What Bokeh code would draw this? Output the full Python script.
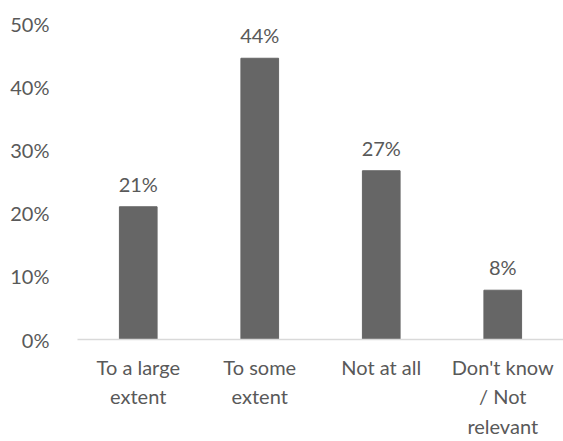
from bokeh.plotting import figure
from bokeh.models import ColumnDataSource, FixedTicker, Range1d
from bokeh.core.properties import value
from bokeh.embed import file_html
from bokeh.resources import INLINE

categories = ["To a large\nextent", "To some\nextent", "Not at all", "Don't know\n/ Not\nrelevant"]
values = [21.0, 44.5, 26.7, 7.8]
labels = ["21%", "44%", "27%", "8%"]
y_ticks = [0, 10, 20, 30, 40, 50]

FONT = "Lato"
TXT = "#595959"

xs = list(range(1, len(categories) + 1))
src = ColumnDataSource(dict(x=xs, top=values, lab=labels))

p = figure(width=563, height=441, output_backend="svg", toolbar_location=None,
           x_range=Range1d(0.5, 4.5), y_range=Range1d(0, 50),
           min_border_left=77, min_border_right=0, min_border_top=23, min_border_bottom=99)
p.outline_line_color = None
p.xgrid.visible = False
p.ygrid.visible = False

p.vbar(x="x", top="top", width=0.31, bottom=0, source=src, color="#666666")
p.text(x="x", y="top", text="lab", source=src, text_align="center", text_baseline="bottom",
       y_offset=-11, text_font=value(FONT), text_font_size="20px", text_color=TXT)

p.yaxis.ticker = FixedTicker(ticks=y_ticks)
p.yaxis.major_label_overrides = {t: f"{t}%" for t in y_ticks}
p.yaxis.axis_line_color = None
p.yaxis.major_tick_line_color = None
p.yaxis.minor_tick_line_color = None
p.yaxis.major_label_text_font = FONT
p.yaxis.major_label_text_font_size = "20px"
p.yaxis.major_label_text_color = TXT
p.yaxis.major_label_standoff = 22

p.xaxis.ticker = FixedTicker(ticks=xs)
p.xaxis.major_label_overrides = {x: c for x, c in zip(xs, categories)}
p.xaxis.axis_line_color = "#d9d9d9"
p.xaxis.axis_line_width = 1.5
p.xaxis.major_tick_line_color = None
p.xaxis.minor_tick_line_color = None
p.xaxis.major_label_text_font = FONT
p.xaxis.major_label_text_font_size = "20px"
p.xaxis.major_label_text_color = TXT
p.xaxis.major_label_standoff = 9
p.xaxis.major_label_text_line_height = 1.24

open("out.html", "w").write(file_html(p, INLINE))
